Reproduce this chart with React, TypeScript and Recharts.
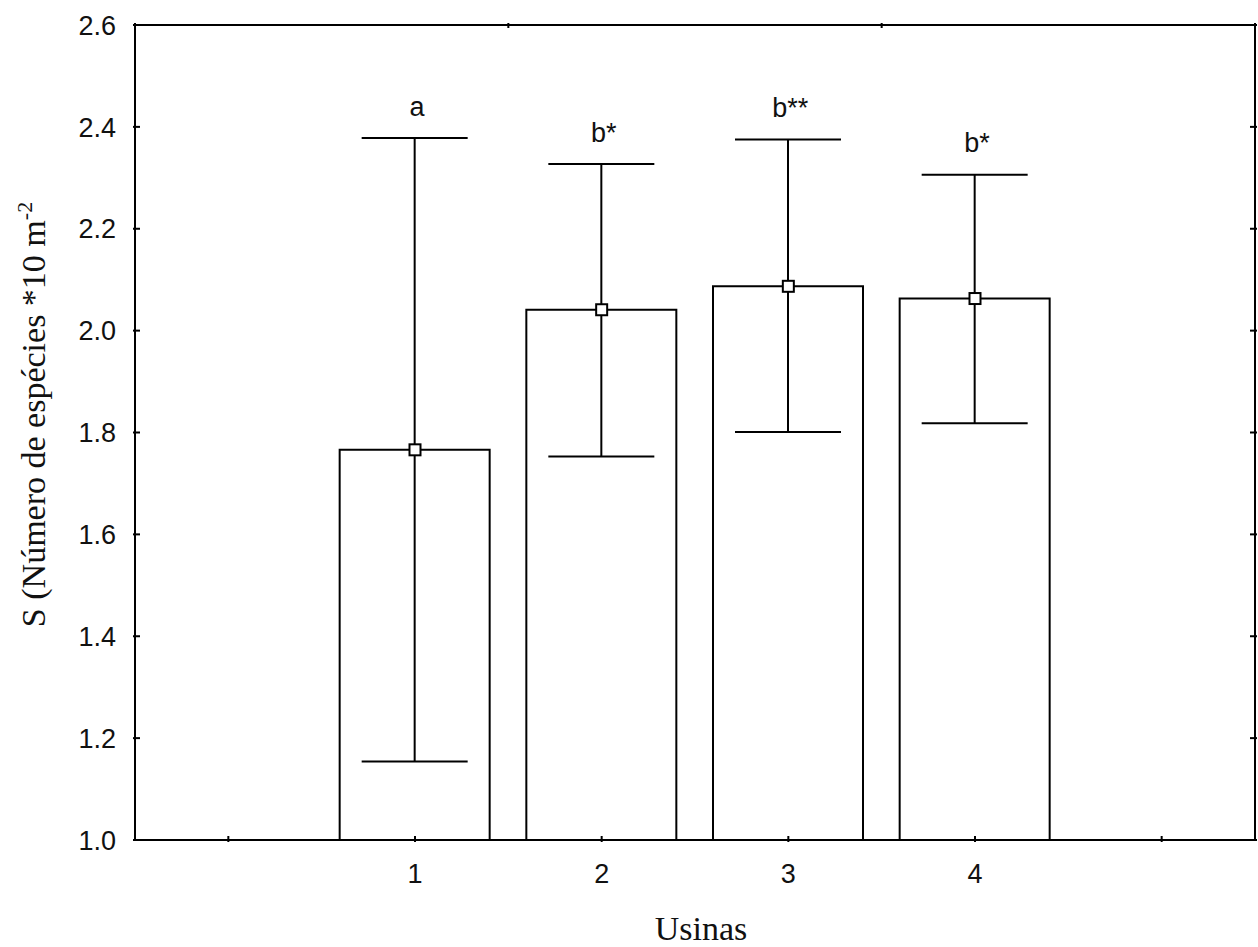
import { ComposedChart, Bar, ErrorBar, Scatter, XAxis, YAxis, Label } from "recharts";

const usinas = [1, 2, 3, 4];
const means = [1.766, 2.041, 2.087, 2.063];
const lows = [1.154, 1.753, 1.801, 1.818];
const highs = [2.378, 2.327, 2.375, 2.306];
const letters = ["a", "b*", "b**", "b*"];

const xTicks = [0, 1, 2, 3, 4, 5];
const yTicks = [1.0, 1.2, 1.4, 1.6, 1.8, 2.0, 2.2, 2.4, 2.6];

const data = usinas.map((u, i) => ({
  usina: u,
  mean: means[i],
  hi: highs[i],
  err: [means[i] - lows[i], highs[i] - means[i]],
  sig: letters[i],
}));

const sans = "'Liberation Sans', Arial, sans-serif";
const serif = "'Liberation Serif', 'Times New Roman', serif";

const LeftTick = ({ x, y, payload }: any) => (
  <g>
    <line x1={x} y1={y} x2={x + 7} y2={y} stroke="#000" strokeWidth={2} />
    <text x={x - 17} y={y} dy="0.36em" textAnchor="end" fontSize={27} fontFamily={sans} fill="#111">
      {Number(payload.value).toFixed(1)}
    </text>
  </g>
);

const RightTick = ({ x, y }: any) => (
  <line x1={x} y1={y} x2={x - 7} y2={y} stroke="#000" strokeWidth={2} />
);

const BottomTick = ({ x, y, payload }: any) => (
  <g>
    <line x1={x} y1={y} x2={x} y2={y - 6} stroke="#000" strokeWidth={2} />
    {payload.value >= 1 && payload.value <= 4 && (
      <text x={x} y={y + 31} dy="0.36em" textAnchor="middle" fontSize={27} fontFamily={sans} fill="#111">
        {payload.value}
      </text>
    )}
  </g>
);

const TopTick = ({ x, y }: any) => (
  <line x1={x} y1={y} x2={x} y2={y + 5} stroke="#000" strokeWidth={2} />
);

const MeanMark = ({ cx, cy }: any) => (
  <rect x={cx - 5.5} y={cy - 5.5} width={11} height={11} fill="#fff" stroke="#000" strokeWidth={2} />
);

const SigMark = ({ cx, cy, payload }: any) => (
  <text x={cx + 2} y={cy - 32} dy="0.36em" textAnchor="middle" fontSize={27} fontFamily={sans} fill="#111">
    {payload.sig}
  </text>
);

const YLabel = ({ viewBox }: any) => {
  const cx = 33;
  const cy = viewBox.y + viewBox.height / 2 - 18;
  return (
    <text
      x={cx}
      y={cy}
      transform={`rotate(-90 ${cx} ${cy})`}
      textAnchor="middle"
      dy="0.35em"
      fontSize={34}
      fontFamily={serif}
      fill="#111"
    >
      S (Número de espécies *10 m
      <tspan dy={-13} fontSize={22}>-2</tspan>
    </text>
  );
};

export default function App() {
  return (
    <div style={{ position: "absolute", left: 0, top: 0, width: 1258, height: 947, background: "#fff" }}>
      <ComposedChart width={1258} height={947} data={data} margin={{ top: 0, right: 0, bottom: 0, left: 0 }}>
        <XAxis
          dataKey="usina"
          type="number"
          domain={[-0.5, 5.5]}
          ticks={xTicks}
          allowDataOverflow
          height={107}
          tickLine={false}
          tickSize={0}
          axisLine={{ stroke: "#000", strokeWidth: 2 }}
          tick={<BottomTick />}
          interval={0}
        >
          <Label
            content={({ viewBox }: any) => (
              <text
                x={viewBox.x + viewBox.width / 2 + 6}
                y={940}
                textAnchor="middle"
                fontSize={34}
                fontFamily={serif}
                fill="#111"
              >
                Usinas
              </text>
            )}
          />
        </XAxis>
        <XAxis
          xAxisId="top"
          orientation="top"
          type="number"
          domain={[-0.5, 5.5]}
          ticks={xTicks}
          allowDataOverflow
          height={25}
          tickLine={false}
          tickSize={0}
          axisLine={{ stroke: "#000", strokeWidth: 2 }}
          tick={<TopTick />}
          interval={0}
        />
        <YAxis
          type="number"
          domain={[1.0, 2.6]}
          ticks={yTicks}
          allowDataOverflow
          width={135}
          tickLine={false}
          tickSize={0}
          axisLine={{ stroke: "#000", strokeWidth: 2 }}
          tick={<LeftTick />}
          interval={0}
        >
          <Label content={<YLabel />} />
        </YAxis>
        <YAxis
          yAxisId="right"
          orientation="right"
          type="number"
          domain={[1.0, 2.6]}
          ticks={yTicks}
          allowDataOverflow
          width={3}
          tickLine={false}
          tickSize={0}
          axisLine={{ stroke: "#000", strokeWidth: 2 }}
          tick={<RightTick />}
          interval={0}
        />
        <Bar dataKey="mean" barSize={150} fill="#fff" stroke="#000" strokeWidth={2} isAnimationActive={false}>
          <ErrorBar dataKey="err" width={53} stroke="#000" strokeWidth={2} direction="y" />
        </Bar>
        <Scatter dataKey="mean" shape={<MeanMark />} isAnimationActive={false} />
        <Scatter dataKey="hi" shape={<SigMark />} isAnimationActive={false} />
      </ComposedChart>
    </div>
  );
}
